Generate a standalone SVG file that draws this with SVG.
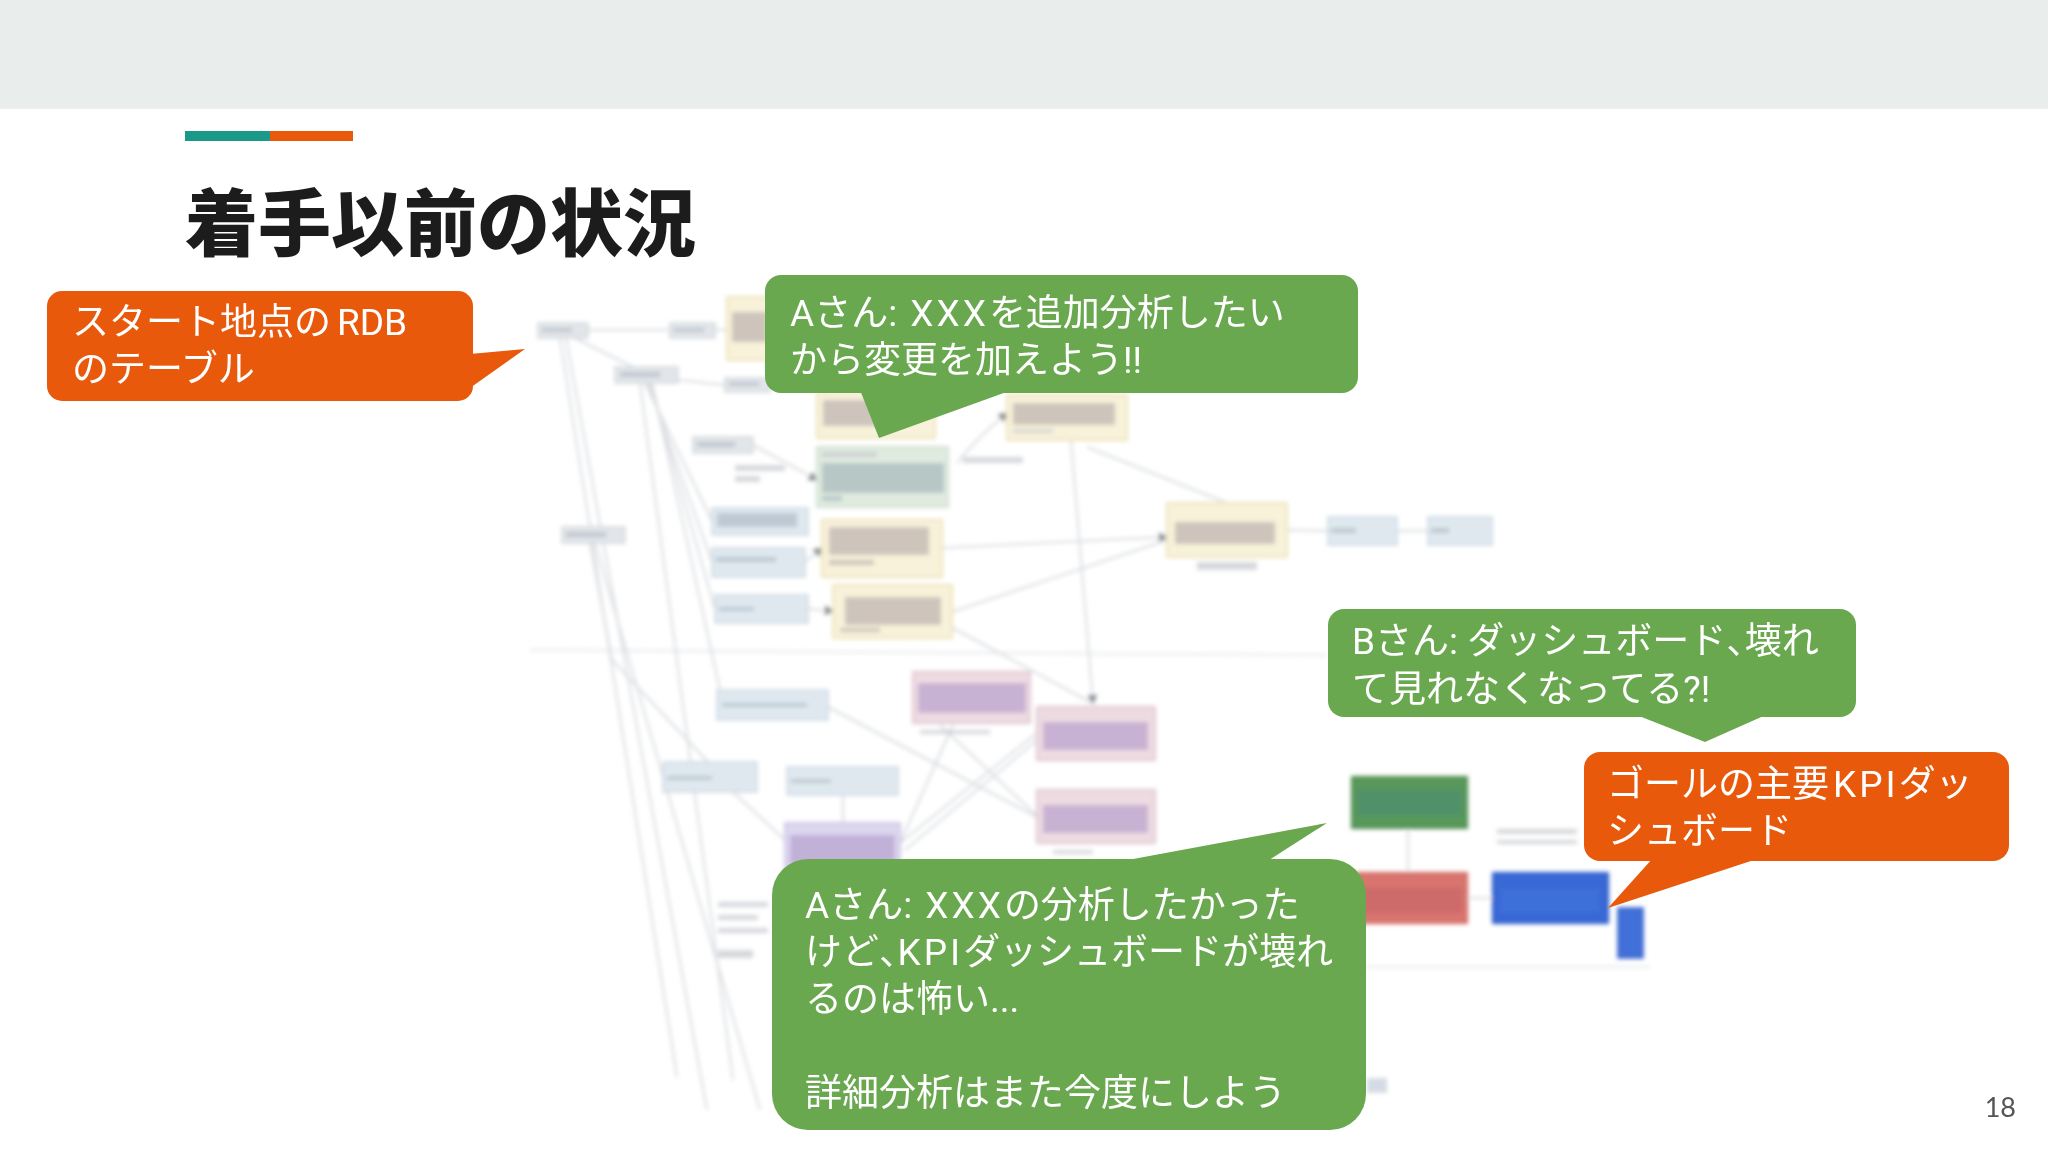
<svg xmlns="http://www.w3.org/2000/svg" width="2048" height="1152" viewBox="0 0 2048 1152">
  <defs>
    <filter id="blur" x="-5%" y="-5%" width="110%" height="110%">
      <feGaussianBlur stdDeviation="2"/>
    </filter>
    <marker id="arr" viewBox="0 0 6 6" refX="5" refY="3" markerWidth="5" markerHeight="5" orient="auto">
      <path d="M0,0 L6,3 L0,6 Z" fill="#8a8f96"/>
    </marker>
  </defs>
  <style>
    .bg { fill: #ffffff; }
    .band { fill: #E9EDEC; }
    .title { font-family: "Noto Sans CJK JP", "Noto Sans", sans-serif; font-weight: 900; font-size: 73px; fill: #1c1c1c; }
    .bt { font-family: "Roboto", "Noto Sans CJK JP", sans-serif; font-weight: 400; font-size: 37px; fill: #ffffff; }
    .wide { letter-spacing: 3px; }
    .half { font-feature-settings: "halt"; }
    .orange { fill: #E8590C; }
    .green { fill: #6AA84F; }
    .pnum { font-family: "Lato", "Liberation Sans", sans-serif; font-size: 27px; fill: #555555; }
    .conn { stroke: #d9dce0; stroke-width: 2; fill: none; }
    .connl { stroke: #e6e8eb; stroke-width: 2; fill: none; }
    .ng { fill: #e2e5e9; stroke: #d2d6dc; stroke-width: 1.5; }
    .nb { fill: #dfe8ef; stroke: #cbd7e2; stroke-width: 1.5; }
    .ny { fill: #f8f2da; stroke: #ece2b6; stroke-width: 2; }
    .ngr { fill: #e0ebe0; stroke: #cfdfcf; stroke-width: 2; }
    .np { fill: #eedbe2; stroke: #dfc5cf; stroke-width: 2; }
    .npu { fill: #dcd7ef; stroke: #cdc6e6; stroke-width: 2; }
    .tx { fill: #b3a5a6; opacity: 0.6; }
    .txb { fill: #a3afbb; opacity: 0.55; }
    .txg { fill: #a9bbbd; opacity: 0.75; }
    .txp { fill: #b29ccb; opacity: 0.65; }
    .lab { fill: #c4c8cd; opacity: 0.7; }
  </style>

  <rect class="bg" x="0" y="0" width="2048" height="1152"/>
  <rect class="band" x="0" y="0" width="2048" height="109"/>

  <g id="accent">
    <rect x="185" y="131" width="85" height="10" fill="#1A9988"/>
    <rect x="270" y="131" width="83" height="10" fill="#E8590C"/>
  </g>
  <text id="title" class="title" x="185" y="250">着手以前の状況</text>

  <!-- faded lineage diagram screenshot -->
  <g id="lineage" filter="url(#blur)">
    <g id="connectors">
      <path class="connl" d="M530,650 L1327,655"/>
      <path class="connl" d="M1367,967 L1650,967"/>
      <path class="conn" d="M588,330 L670,330"/>
      <path class="conn" d="M715,330 L727,330"/>
      <path class="conn" d="M573,337 L633,367"/>
      <path class="conn" d="M678,380 L725,385"/>
      <path class="conn" d="M560,338 L677,1077"/>
      <path class="conn" d="M566,338 L707,1110"/>
      <path class="conn" d="M640,383 L733,1080"/>
      <path class="conn" d="M645,383 L712,521"/>
      <path class="conn" d="M648,383 L712,562"/>
      <path class="conn" d="M650,383 L715,609"/>
      <path class="conn" d="M652,383 L720,690"/>
      <path class="conn" d="M590,543 L612,660 L708,762"/>
      <path class="conn" d="M595,543 L760,1110"/>
      <path class="conn" d="M753,445 L790,465 L817,480" marker-end="url(#arr)"/>
      <path class="conn" d="M957,463 Q975,440 1007,413" marker-end="url(#arr)"/>
      <path class="conn" d="M1087,447 L1227,503"/>
      <path class="conn" d="M1071,440 L1093,703" marker-end="url(#arr)"/>
      <path class="conn" d="M942,548 L1167,537" marker-end="url(#arr)"/>
      <path class="conn" d="M952,612 L1167,540"/>
      <path class="conn" d="M1287,530 L1328,531"/>
      <path class="conn" d="M1397,531 L1428,531"/>
      <path class="conn" d="M805,562 L822,548" marker-end="url(#arr)"/>
      <path class="conn" d="M808,609 L833,611" marker-end="url(#arr)"/>
      <path class="conn" d="M951,627 L1092,703"/>
      <path class="conn" d="M828,707 L1037,817"/>
      <path class="conn" d="M940,725 L1037,816"/>
      <path class="conn" d="M953,725 L900,843"/>
      <path class="conn" d="M900,843 L1037,733"/>
      <path class="conn" d="M905,850 L1037,740"/>
      <path class="conn" d="M843,795 L843,823"/>
      <path class="conn" d="M733,792 L785,840"/>
      <path class="conn" d="M1408,828 L1408,873"/>
      <path class="conn" d="M1467,898 L1493,898"/>
    </g>

    <g id="n1"><rect class="ng" x="538" y="323" width="50" height="15"/><rect class="txb" x="542" y="328" width="30" height="4"/></g>
    <g id="n2"><rect class="ng" x="670" y="323" width="45" height="15"/><rect class="txb" x="674" y="328" width="30" height="4"/></g>
    <g id="n3"><rect class="ny" x="727" y="297" width="45" height="63"/><rect class="tx" x="732" y="312" width="35" height="30"/></g>
    <g id="n4"><rect class="ng" x="615" y="367" width="63" height="16"/><rect class="txb" x="620" y="372" width="40" height="5"/></g>
    <g id="n5"><rect class="ng" x="725" y="378" width="45" height="14"/><rect class="txb" x="729" y="382" width="30" height="4"/></g>
    <g id="n6"><rect class="ny" x="817" y="393" width="118" height="45"/><rect class="tx" x="823" y="400" width="80" height="26"/></g>
    <g id="n7"><rect class="ny" x="1007" y="395" width="120" height="45"/><rect class="tx" x="1013" y="403" width="102" height="22"/><rect class="lab" x="1013" y="429" width="40" height="4"/></g>
    <g id="n8"><rect class="ng" x="693" y="437" width="60" height="16"/><rect class="txb" x="697" y="442" width="38" height="5"/></g>
    <g id="lab9"><rect class="lab" x="735" y="465" width="50" height="6"/><rect class="lab" x="735" y="476" width="25" height="6"/></g>
    <g id="n10"><rect class="ngr" x="817" y="447" width="131" height="60"/><rect class="lab" x="822" y="452" width="55" height="5"/><rect class="txg" x="822" y="463" width="122" height="30"/><rect class="txg" x="822" y="496" width="20" height="5"/></g>
    <g id="lab11"><rect class="lab" x="963" y="457" width="60" height="6"/></g>
    <g id="n12"><rect class="nb" x="712" y="508" width="96" height="27"/><rect class="txb" x="717" y="513" width="80" height="14"/></g>
    <g id="n13"><rect class="ng" x="562" y="527" width="63" height="16"/><rect class="txb" x="566" y="532" width="40" height="5"/></g>
    <g id="n14"><rect class="ny" x="822" y="520" width="120" height="57"/><rect class="tx" x="829" y="527" width="100" height="28"/><rect class="tx" x="829" y="560" width="45" height="5"/></g>
    <g id="n15"><rect class="ny" x="1167" y="503" width="120" height="54"/><rect class="tx" x="1175" y="522" width="100" height="22"/><rect class="lab" x="1197" y="562" width="60" height="8"/></g>
    <g id="n16"><rect class="nb" x="1328" y="517" width="69" height="28"/><rect class="txb" x="1331" y="528" width="25" height="5"/></g>
    <g id="n17"><rect class="nb" x="1428" y="517" width="64" height="28"/><rect class="txb" x="1431" y="528" width="18" height="5"/></g>
    <g id="n18"><rect class="nb" x="712" y="548" width="93" height="29"/><rect class="txb" x="716" y="557" width="60" height="5"/></g>
    <g id="n19"><rect class="nb" x="715" y="595" width="93" height="28"/><rect class="txb" x="719" y="607" width="35" height="4"/></g>
    <g id="n20"><rect class="ny" x="833" y="585" width="119" height="53"/><rect class="tx" x="845" y="597" width="96" height="28"/><rect class="tx" x="840" y="628" width="40" height="4"/></g>
    <g id="n21"><rect class="np" x="913" y="672" width="117" height="51"/><rect class="txp" x="918" y="683" width="108" height="30"/><rect class="lab" x="920" y="730" width="70" height="4"/></g>
    <g id="n22"><rect class="np" x="1037" y="707" width="118" height="53"/><rect class="txp" x="1043" y="722" width="105" height="28"/></g>
    <g id="n23"><rect class="nb" x="717" y="690" width="111" height="30"/><rect class="txb" x="722" y="703" width="85" height="4"/></g>
    <g id="n24"><rect class="nb" x="663" y="762" width="94" height="30"/><rect class="txb" x="667" y="776" width="45" height="4"/></g>
    <g id="n25"><rect class="nb" x="787" y="767" width="111" height="28"/><rect class="txb" x="791" y="779" width="40" height="4"/></g>
    <g id="n26"><rect class="np" x="1037" y="790" width="118" height="53"/><rect class="txp" x="1043" y="805" width="105" height="28"/><rect class="lab" x="1053" y="850" width="40" height="4"/></g>
    <g id="n27"><rect class="npu" x="785" y="823" width="115" height="50"/><rect class="txp" x="790" y="835" width="105" height="30"/></g>
    <g id="n28"><rect x="1352" y="777" width="115" height="51" fill="#58985a" stroke="#4b8a4d" stroke-width="2"/><rect x="1357" y="790" width="105" height="25" fill="#4f8f72" opacity="0.7"/></g>
    <g id="n29"><rect x="1357" y="873" width="110" height="50" fill="#d9746e" stroke="#cf6660" stroke-width="2"/><rect x="1362" y="888" width="100" height="25" fill="#c76868" opacity="0.7"/></g>
    <g id="n30"><rect x="1493" y="873" width="115" height="50" fill="#3768d6" stroke="#2d5cc8" stroke-width="2"/><rect x="1500" y="888" width="100" height="25" fill="#3f72da" opacity="0.8"/></g>
    <g id="n31"><rect x="1618" y="908" width="25" height="50" fill="#3f6fd8" stroke="#2d5cc8" stroke-width="1.5"/></g>
    <g id="lab32"><rect class="lab" x="1497" y="829" width="80" height="5"/><rect class="lab" x="1497" y="840" width="80" height="4"/></g>
    <g id="lab33"><rect class="lab" x="718" y="902" width="50" height="5"/><rect class="lab" x="718" y="915" width="40" height="5"/><rect class="lab" x="718" y="928" width="50" height="5"/><rect class="lab" x="718" y="950" width="35" height="8"/></g>
    <g id="bar34"><rect x="1367" y="1078" width="20" height="15" fill="#d5dbe4"/></g>
  </g>

  <!-- speech bubbles -->
  <g id="bubble-start">
    <rect class="orange" x="47" y="291" width="426" height="110" rx="15"/>
    <polygon class="orange" points="470,354 525,349 470,388"/>
    <text class="bt" x="72" y="335">スタート地点の<tspan dx="6">RDB</tspan></text>
    <text class="bt" x="72" y="382">のテーブル</text>
  </g>

  <g id="bubble-a1">
    <rect class="green" x="765" y="275" width="593" height="118" rx="16"/>
    <polygon class="green" points="860,390 879,438 1012,390"/>
    <text class="bt" x="790" y="326">Aさん: <tspan class="wide" dx="4">XXX</tspan>を追加分析したい</text>
    <text class="bt" x="790" y="373">から変更を加えよう!!</text>
  </g>

  <g id="bubble-b">
    <rect class="green" x="1328" y="609" width="528" height="108" rx="16"/>
    <polygon class="green" points="1634,714 1705,742 1768,714"/>
    <text class="bt" x="1352" y="654">Bさん: ダッシュボード<tspan class="half">、</tspan>壊れ</text>
    <text class="bt" x="1352" y="702">て見れなくなってる?!</text>
  </g>

  <g id="bubble-goal">
    <rect class="orange" x="1584" y="752" width="425" height="109" rx="16"/>
    <polygon class="orange" points="1653,858 1608,908 1760,858"/>
    <text class="bt" x="1607" y="797">ゴールの主要<tspan class="wide" dx="4">KPI</tspan>ダッ</text>
    <text class="bt" x="1607" y="844">シュボード</text>
  </g>

  <g id="bubble-a2">
    <rect class="green" x="772" y="859" width="594" height="271" rx="36"/>
    <polygon class="green" points="1117,862 1327,823 1266,862"/>
    <text class="bt" x="805" y="918">Aさん: <tspan class="wide" dx="4">XXX</tspan>の分析したかった</text>
    <text class="bt" x="805" y="965">けど<tspan class="half">、</tspan><tspan class="wide">KPI</tspan>ダッシュボードが壊れ</text>
    <text class="bt" x="805" y="1012">るのは怖い...</text>
    <text class="bt" x="805" y="1106">詳細分析はまた今度にしよう</text>
  </g>

  <text id="page-number" class="pnum" x="2016" y="1117" text-anchor="end">18</text>
</svg>
